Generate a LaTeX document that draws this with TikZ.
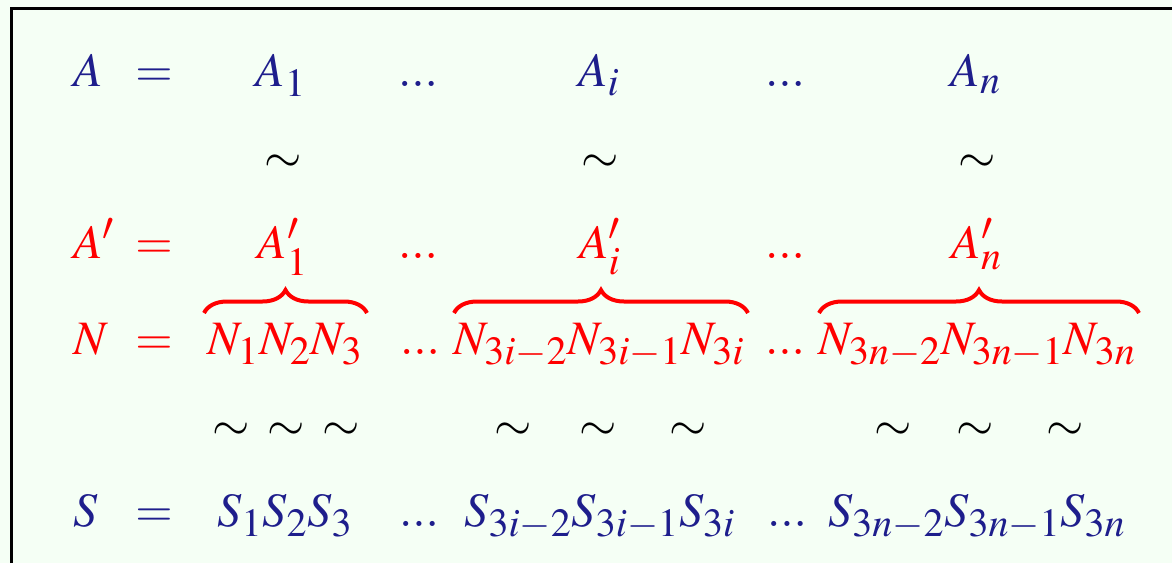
\documentclass[tikz,border=0pt]{standalone}
\usepackage{mathptmx}
\usetikzlibrary{decorations.pathreplacing}
\DeclareMathSizes{24}{24}{20}{16}
\definecolor{dblue}{RGB}{30,30,140}
\definecolor{bgc}{RGB}{245,255,245}
\begin{document}
\begin{tikzpicture}[x=0.5pt,y=-0.5pt,
  txt/.style={inner sep=0pt, outer sep=0pt, anchor=base, font=\fontsize{24}{29}\selectfont},
  bl/.style={txt,text=dblue},
  rd/.style={txt,text=red},
  tl/.style={txt,text=black},
  brc/.style={draw=red, line width=2pt, decorate, decoration={brace, amplitude=11.5pt}},
  frame/.style={line width=1.5pt, draw=black}]
\fill[bgc] (0,0) rectangle (1172,563);
\useasboundingbox (0,0) rectangle (1172,563);
\draw[frame] (11,563) -- (11,8) -- (1172,8);
% row 1
\node[bl,anchor=base west] (lA) at (73,86) {$A$};
\node[bl] (eqA) at (154,86) {$=$};
\node[bl] (A1) at (281,86) {$A_1$};
\node[bl] (dA1) at (418,86) {$...$};
\node[bl] (Ai) at (599,86) {$A_i$};
\node[bl] (dA2) at (785,86) {$...$};
\node[bl] (An) at (976,86) {$A_n$};
% row 2
\node[tl] (t1) at (283,172) {$\sim$};
\node[tl] (t2) at (600,172) {$\sim$};
\node[tl] (t3) at (977,172) {$\sim$};
% row 3
\node[rd,anchor=base west] (lAp) at (73,258) {$A'$};
\node[rd] (eqAp) at (154,258) {$=$};
\node[rd] (Ap1) at (283,258) {$A'_1$};
\node[rd] (dAp1) at (418,258) {$...$};
\node[rd] (Api) at (600,258) {$A'_i$};
\node[rd] (dAp2) at (785,258) {$...$};
\node[rd] (Apn) at (977,258) {$A'_n$};
% row 4
\node[rd,anchor=base west] (lN) at (73,354) {$N$};
\node[rd] (eqN) at (154,354) {$=$};
\node[rd] (N1) at (285,354) {$N_1N_2N_3$};
\node[rd] (dN1) at (420,354) {$...$};
\node[rd] (Ni) at (599,354) {$N_{3i-2}N_{3i-1}N_{3i}$};
\node[rd] (dN2) at (785,354) {$...$};
\node[rd] (Nn) at (977,354) {$N_{3n-2}N_{3n-1}N_{3n}$};
\coordinate (b1l) at (204,313); \coordinate (b1r) at (367,313);
\coordinate (b2l) at (454,313); \coordinate (b2r) at (748,313);
\coordinate (b3l) at (819,313); \coordinate (b3r) at (1139,313);
\draw[brc] (b1l) -- (b1r);
\draw[brc] (b2l) -- (b2r);
\draw[brc] (b3l) -- (b3r);
% row 5
\node[tl] (s1) at (231,440) {$\sim$};
\node[tl] (s2) at (286,440) {$\sim$};
\node[tl] (s3) at (341,440) {$\sim$};
\node[tl] (s4) at (513,440) {$\sim$};
\node[tl] (s5) at (598,440) {$\sim$};
\node[tl] (s6) at (688,440) {$\sim$};
\node[tl] (s7) at (893,440) {$\sim$};
\node[tl] (s8) at (975,440) {$\sim$};
\node[tl] (s9) at (1065,440) {$\sim$};
% row 6
\node[bl,anchor=base west] (lS) at (73,526) {$S$};
\node[bl] (eqS) at (154,526) {$=$};
\node[bl] (S1) at (285,526) {$S_1S_2S_3$};
\node[bl] (dS1) at (419,526) {$...$};
\node[bl] (Si) at (600,526) {$S_{3i-2}S_{3i-1}S_{3i}$};
\node[bl] (dS2) at (787,526) {$...$};
\node[bl] (Sn) at (977,526) {$S_{3n-2}S_{3n-1}S_{3n}$};
\end{tikzpicture}
\end{document}
